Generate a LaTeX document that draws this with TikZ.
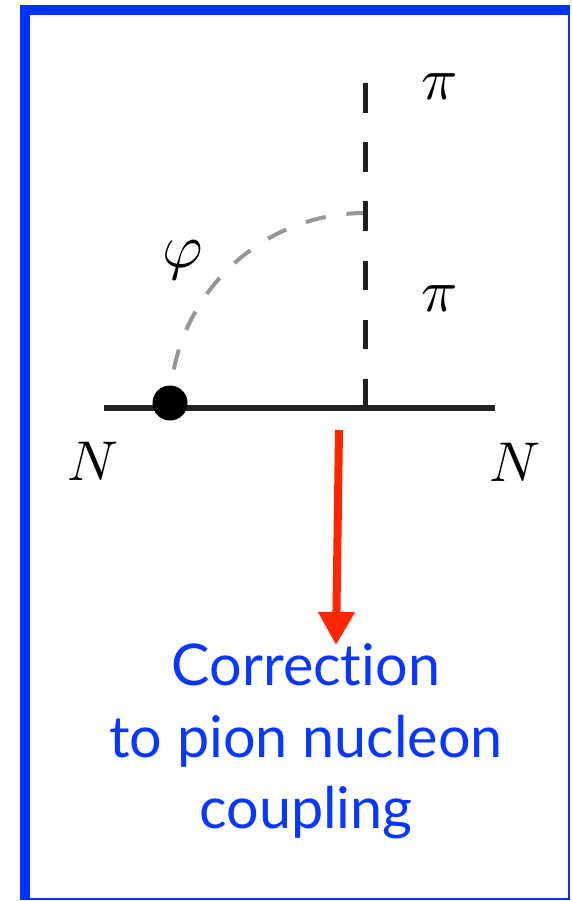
\documentclass[tikz,border=0pt]{standalone}
\usepackage{graphicx}
\usepackage{fontspec}
\setsansfont[Ligatures={NoCommon,NoRare}]{Lato}
\usetikzlibrary{arrows.meta}
\definecolor{frameblue}{RGB}{0,51,255}
\definecolor{textblue}{RGB}{10,55,255}
\definecolor{arrowred}{RGB}{255,38,0}
\definecolor{linegray}{RGB}{150,150,150}
\definecolor{lineblack}{RGB}{35,31,32}
\tikzset{
  fermion/.style={draw=lineblack, line width=6pt},
  pionline/.style={draw=lineblack, line width=5pt, dash pattern=on 29.5pt off 29.5pt},
  philine/.style={draw=linegray, line width=4pt, dash pattern=on 20.5pt off 21pt, dash phase=2pt},
  mathlbl/.style={inner sep=0pt, text=black},
  caption/.style={inner sep=0pt, anchor=base, text=textblue, font=\sffamily\fontsize{57.5}{70}\selectfont},
  redarrow/.style={draw=arrowred, line width=8pt, -{Triangle[length=33pt 0 0, width=35pt 0 0]}},
}
\begin{document}
\begin{tikzpicture}[x=1pt, y=-1pt]
  \useasboundingbox (0,0) rectangle (571,901);
  % frame
  \fill[frameblue] (20,5) rectangle (570,900);
  \fill[white] (30,15) rectangle (568,898);
  % coordinates
  \coordinate (Nl) at (104,408);
  \coordinate (Nr) at (495,408);
  \coordinate (V) at (365,408);
  \coordinate (Vtop) at (365,80);
  \coordinate (A) at (365,213);
  \coordinate (D) at (170,403);
  \coordinate (Rs) at (339,430);
  \coordinate (Re) at (336,645);
  % phi line: quarter circle centred at V
  \draw[philine] (A) arc[start angle=-90, end angle=-180, radius=195];
  % pion line
  \draw[pionline] (V) -- (Vtop);
  % nucleon line
  \draw[fermion] (Nl) -- (Nr);
  % vertex dot
  \fill[black] (D) circle[radius=17.5];
  % labels
  \node[mathlbl] (lN1) at (93,461) {\scalebox{5.6}{$N$}};
  \node[mathlbl] (lN2) at (515,462) {\scalebox{5.6}{$N$}};
  \node[mathlbl] (lpi1) at (440,87) {\scalebox{6}{$\pi$}};
  \node[mathlbl] (lpi2) at (440,299) {\scalebox{6}{$\pi$}};
  \node[mathlbl] (lphi) at (183,260) {\scalebox{6.2}{$\varphi$}};
  % red arrow
  \draw[redarrow] (Rs) -- (Re);
  % caption
  \node[caption] (c1) at (306,685) {Correction};
  \node[caption] (c2) at (306,757) {to pion nucleon};
  \node[caption] (c3) at (306,828) {coupling};
\end{tikzpicture}
\end{document}
